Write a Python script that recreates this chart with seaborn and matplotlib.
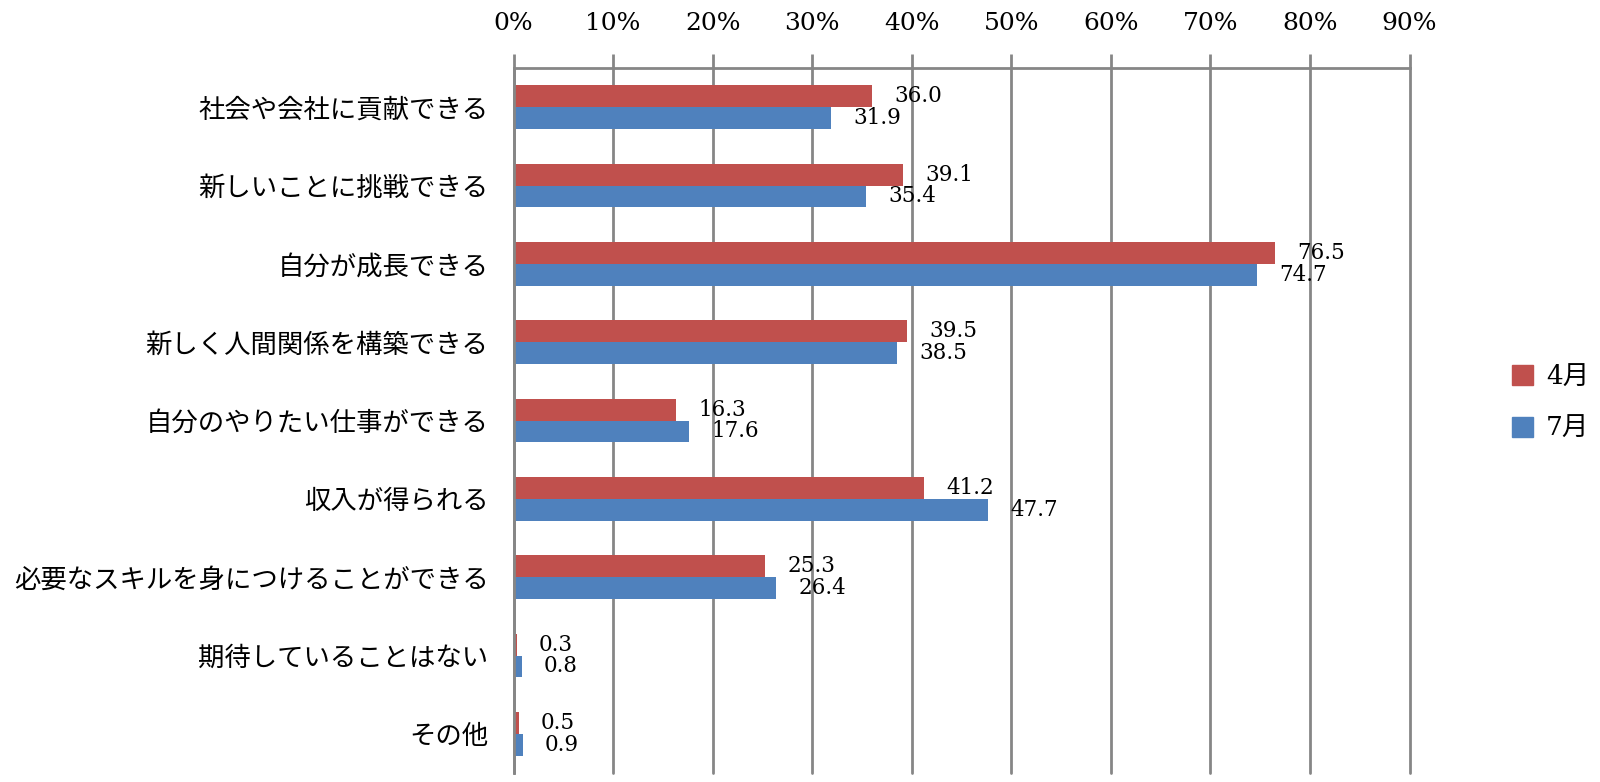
import pandas as pd
import matplotlib
matplotlib.use('Agg')
import matplotlib.pyplot as plt
import seaborn as sns
from matplotlib.ticker import FixedLocator, PercentFormatter

# 항목 (카테고리)
categories = ['社会や会社に貢献できる', '新しいことに挑戦できる', '自分が成長できる',
              '新しく人間関係を構築できる', '自分のやりたい仕事ができる', '収入が得られる',
              '必要なスキルを身につけることができる', '期待していることはない', 'その他']
april = [36.0, 39.1, 76.5, 39.5, 16.3, 41.2, 25.3, 0.3, 0.5]
july = [31.9, 35.4, 74.7, 38.5, 17.6, 47.7, 26.4, 0.8, 0.9]
series_names = ['4月', '7月']
colors = ['#C0504D', '#4F81BD']
x_ticks = [0, 10, 20, 30, 40, 50, 60, 70, 80, 90]

df = pd.DataFrame({
    'category': categories * 2,
    'value': april + july,
    'month': [series_names[0]] * len(categories) + [series_names[1]] * len(categories),
})

sns.set_style('white')
cjk = ['Noto Sans CJK JP', 'DejaVu Sans']
serif = ['DejaVu Serif', 'Noto Sans CJK JP']
plt.rcParams['font.family'] = cjk
plt.rcParams['text.color'] = 'black'
plt.rcParams['xtick.labelcolor'] = 'black'
plt.rcParams['ytick.labelcolor'] = 'black'

fig = plt.figure(figsize=(16, 7.82), dpi=100)
ax = fig.add_axes([0.321, 0.0115, 0.56, 0.9015])

sns.barplot(data=df, x='value', y='category', hue='month', hue_order=series_names,
            palette=colors, orient='h', width=0.56, saturation=1, linewidth=0, ax=ax)

ax.set_xlim(0, 90)
ax.set_ylim(len(categories) - 0.5, -0.5)
ax.xaxis.tick_top()
ax.set_xticks(x_ticks)
ax.xaxis.set_major_formatter(PercentFormatter(decimals=0))
for lab in ax.get_xticklabels():
    lab.set_family(serif)
    lab.set_fontsize(18)
ax.tick_params(axis='x', which='major', direction='out', length=10, width=2,
               color='#868686', labelcolor='black', pad=14)
ax.grid(axis='x', color='#868686', linewidth=2)
for gl in ax.get_xgridlines():
    gl.set_clip_on(False)
ax.set_axisbelow(True)

# y축: 경계에 눈금, 라벨은 중앙
ax.tick_params(axis='y', which='major', length=0, pad=18, labelsize=19, labelcolor='black')
ax.yaxis.set_minor_locator(FixedLocator([i - 0.5 for i in range(len(categories) + 1)]))
ax.tick_params(axis='y', which='minor', direction='out', length=10, width=2, color='#868686')

for side in ['right', 'bottom']:
    ax.spines[side].set_visible(False)
for side in ['left', 'top']:
    ax.spines[side].set_color('#868686')
    ax.spines[side].set_linewidth(2)

ax.set_xlabel('')
ax.set_ylabel('')

# 값 라벨
for container in ax.containers:
    for bar in container:
        w = bar.get_width()
        yc = bar.get_y() + bar.get_height() / 2
        ax.annotate(f'{w:.1f}', xy=(w, yc), xytext=(16, 0), textcoords='offset points',
                    ha='left', va='center', fontsize=15.5, family=serif, color='black')

ax.legend_.remove()
handles = [plt.Rectangle((0, 0), 1, 1, color=c) for c in colors]
leg = fig.legend(handles, series_names, loc='center left', bbox_to_anchor=(0.93, 0.485),
                 frameon=False, prop={'family': serif, 'size': 19}, handlelength=0.8,
                 handleheight=0.8, handletextpad=0.5, labelspacing=1.0)
for t in leg.get_texts():
    t.set_color('black')

fig.savefig('out.png', dpi=100)
